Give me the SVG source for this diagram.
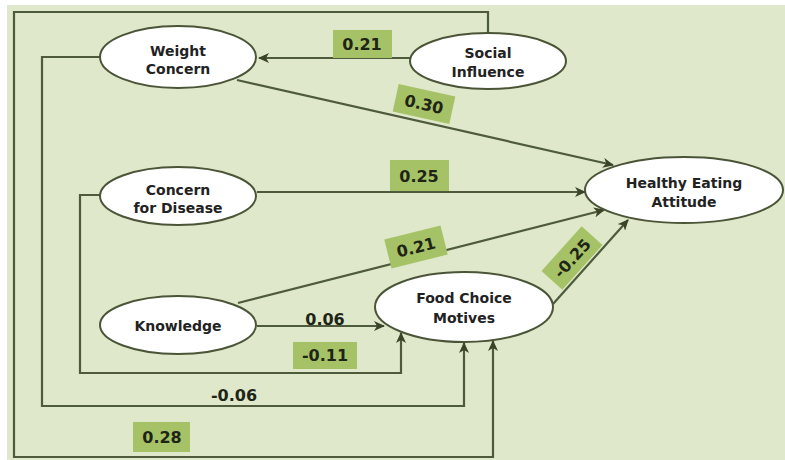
<svg xmlns="http://www.w3.org/2000/svg" width="785" height="460" viewBox="0 0 785 460">
<defs>
<style>
.node ellipse{fill:#ffffff;stroke:#4a5538;stroke-width:2}
.node text{font-family:"DejaVu Sans",Verdana,sans-serif;font-weight:bold;font-size:14px;fill:#222;text-anchor:middle}
.conn{fill:none;stroke:#4d5a3c;stroke-width:2.2}
.lbl rect{fill:#a6c266}
.lbl text{font-family:"DejaVu Sans",Verdana,sans-serif;font-weight:bold;font-size:16px;fill:#1e2416;text-anchor:middle}
</style>
<marker id="arr" markerWidth="11" markerHeight="10" refX="10" refY="5" orient="auto" markerUnits="userSpaceOnUse">
<path d="M0,0 L11,5 L0,10 L3,5 z" fill="#3a4428"/>
</marker>
</defs>
<rect x="0" y="0" width="785" height="460" fill="#ffffff"/>
<rect x="7" y="5" width="778" height="455" fill="#dfe8ca"/>
<g id="connectors">
<path class="conn" d="M410,58 L259,58" marker-end="url(#arr)"/>
<path class="conn" d="M237,80 L613,165" marker-end="url(#arr)"/>
<path class="conn" d="M257,192 L585,192" marker-end="url(#arr)"/>
<path class="conn" d="M238,303 L604,210" marker-end="url(#arr)"/>
<path class="conn" d="M553,304 L628,220" marker-end="url(#arr)"/>
<path class="conn" d="M257,326 L384,326" marker-end="url(#arr)"/>
<path class="conn" d="M100,195 L80,195 L80,373 L401,373 L401,333" marker-end="url(#arr)"/>
<path class="conn" d="M100,57 L42,57 L42,406 L464,406 L464,343" marker-end="url(#arr)"/>
<path class="conn" d="M488,33 L488,12 L14,12 L14,457 L493,457 L493,341" marker-end="url(#arr)"/>
</g>
<g id="labels">
<g class="lbl"><rect x="333" y="30" width="59" height="28"/><text x="362" y="50">0.21</text></g>
<g class="lbl" transform="translate(424,104) rotate(12.5)"><rect x="-29" y="-14" width="58" height="28"/><text x="0" y="6">0.30</text></g>
<g class="lbl"><rect x="390" y="160" width="59" height="31"/><text x="419" y="182">0.25</text></g>
<g class="lbl" transform="translate(416,247) rotate(-14)"><rect x="-29" y="-15" width="58" height="30"/><text x="0" y="6">0.21</text></g>
<g class="lbl" transform="translate(572,258) rotate(-48)"><rect x="-30" y="-14" width="60" height="28"/><text x="0" y="6">-0.25</text></g>
<g class="lbl"><text x="325" y="325">0.06</text></g>
<g class="lbl"><rect x="293" y="342" width="64" height="27"/><text x="325" y="361">-0.11</text></g>
<g class="lbl"><text x="234" y="401">-0.06</text></g>
<g class="lbl"><rect x="133" y="422" width="57" height="30"/><text x="162" y="443">0.28</text></g>
</g>
<g id="weight-concern" class="node"><ellipse cx="178" cy="57" rx="78" ry="31"/><text x="178" y="56">Weight</text><text x="178" y="74">Concern</text></g>
<g id="social-influence" class="node"><ellipse cx="488" cy="61" rx="78" ry="28"/><text x="488" y="58">Social</text><text x="488" y="77">Influence</text></g>
<g id="concern-for-disease" class="node"><ellipse cx="178" cy="196" rx="78" ry="29"/><text x="178" y="195">Concern</text><text x="178" y="213">for Disease</text></g>
<g id="healthy-eating-attitude" class="node"><ellipse cx="684" cy="190" rx="99" ry="33"/><text x="684" y="188">Healthy Eating</text><text x="684" y="207">Attitude</text></g>
<g id="knowledge" class="node"><ellipse cx="178" cy="325" rx="78" ry="29"/><text x="178" y="331">Knowledge</text></g>
<g id="food-choice-motives" class="node"><ellipse cx="464" cy="307" rx="89" ry="35"/><text x="464" y="303">Food Choice</text><text x="464" y="323">Motives</text></g>
</svg>
